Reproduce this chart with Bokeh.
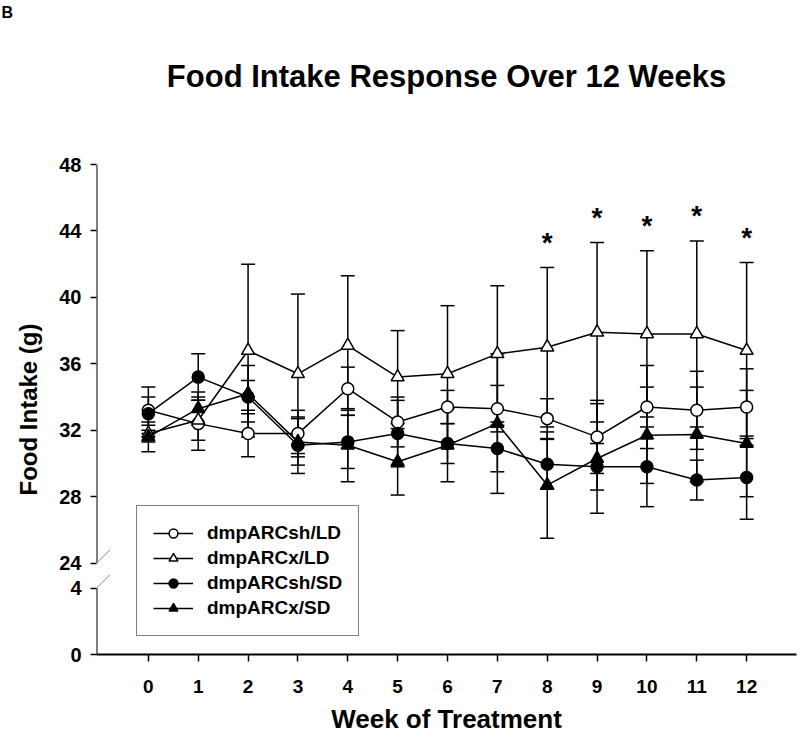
import numpy as np
from bokeh.plotting import figure
from bokeh.models import (ColumnDataSource, Whisker, TeeHead, FixedTicker, Legend,
                          LegendItem, Arrow, Range1d, Title)
from bokeh.embed import file_html
from bokeh.resources import INLINE

# ---------------- data ----------------
weeks = list(range(13))
week_labels = [str(w) for w in weeks]

sh_ld_mean = [33.2, 32.4, 31.8, 31.8, 34.5, 32.5, 33.4, 33.3, 32.7, 31.6, 33.4, 33.2, 33.4]
sh_ld_sem = [1.4, 1.6, 1.4, 1.4, 1.3, 1.5, 1.0, 1.4, 1.2, 2.2, 2.5, 2.35, 2.3]

x_ld_mean = [31.8, 32.6, 36.8, 35.4, 37.1, 35.2, 35.4, 36.6, 37.0, 37.9, 37.8, 37.8, 36.8]
x_ld_sem = [0.5, 1.2, 5.2, 4.8, 4.2, 2.8, 4.1, 4.1, 4.8, 5.4, 5.0, 5.6, 5.3]

sh_sd_mean = [33.0, 35.2, 34.0, 31.1, 31.3, 31.8, 31.2, 30.9, 29.95, 29.8, 29.8, 29.0, 29.15]
sh_sd_sem = [1.0, 1.4, 1.0, 1.7, 1.6, 2.0, 1.2, 1.4, 1.5, 1.4, 2.4, 1.2, 2.5]

x_sd_mean = [31.6, 33.3, 34.2, 31.3, 31.1, 30.1, 31.1, 32.4, 28.7, 30.3, 31.7, 31.75, 31.2]
x_sd_sem = [0.9, 1.0, 1.7, 1.4, 2.2, 2.0, 2.2, 4.2, 3.2, 3.3, 2.9, 2.85, 3.2]

series_names = ["dmpARCsh/LD", "dmpARCx/LD", "dmpARCsh/SD", "dmpARCx/SD"]
star_weeks = [8, 9, 10, 11, 12]

y_ticks_lower = [0, 4]
y_ticks_upper = [24, 28, 32, 36, 40, 44, 48]

# ---------------- broken axis mapping ----------------
BREAK_LO, BREAK_HI, GAP = 4, 24, 1.5
SHIFT = BREAK_HI - BREAK_LO - GAP


def to_plot(v):
    v = np.asarray(v, dtype=float)
    return np.where(v >= BREAK_HI, v - SHIFT, v)


FONT = "Liberation Sans"
X0, X1 = -1.04, 13.0
Y_TOP = to_plot(48).item()

p = figure(width=798, height=737, x_range=Range1d(X0, X1), y_range=Range1d(0, Y_TOP),
           output_backend="svg", toolbar_location=None,
           min_border_left=96, min_border_right=2, min_border_top=163, min_border_bottom=83)
p.grid.visible = False
p.outline_line_color = None
p.background_fill_color = "white"
p.title = None

# stacked above panels (first = closest to the frame): spacer, main title, panel letter
p.add_layout(Title(text=" ", text_font_size="1px", standoff=33), "above")
p.add_layout(Title(text="Food Intake Response Over 12 Weeks", align="center",
                   text_font=FONT, text_font_size="31px",
                   text_font_style="bold", text_color="black", standoff=69), "above")
p.add_layout(Title(text="B", align="left", offset=-95,
                   text_font=FONT, text_font_size="16px",
                   text_font_style="bold", text_color="black", standoff=3), "above")

# x axis
xa = p.xaxis[0]
xa.ticker = FixedTicker(ticks=weeks)
xa.major_label_overrides = {w: l for w, l in zip(weeks, week_labels)}
xa.axis_line_width = 2
xa.axis_line_color = "black"
xa.major_tick_out = 7
xa.major_tick_in = 0
xa.major_tick_line_width = 1.5
xa.major_tick_line_color = "black"
xa.minor_tick_out = 0
xa.minor_tick_in = 0
xa.major_label_text_font = FONT
xa.major_label_text_font_size = "19px"
xa.major_label_text_font_style = "bold"
xa.major_label_text_color = "black"
xa.major_label_standoff = 18
xa.axis_label = "Week of Treatment"
xa.axis_label_text_font = FONT
xa.axis_label_text_font_size = "26px"
xa.axis_label_text_font_style = "bold"
xa.axis_label_text_color = "black"
xa.axis_label_standoff = 8

# y axis
ya = p.yaxis[0]
tick_vals = list(y_ticks_lower) + list(y_ticks_upper)
tick_pos = [float(t) for t in to_plot(tick_vals)]
ya.ticker = FixedTicker(ticks=tick_pos)
ya.major_label_overrides = {pos: str(v) for pos, v in zip(tick_pos, tick_vals)}
ya.axis_line_color = None
ya.major_tick_out = 6
ya.major_tick_in = 0
ya.major_tick_line_width = 1.5
ya.major_tick_line_color = "black"
ya.minor_tick_out = 0
ya.minor_tick_in = 0
ya.major_label_text_font = FONT
ya.major_label_text_font_size = "20px"
ya.major_label_text_font_style = "bold"
ya.major_label_text_color = "black"
ya.major_label_standoff = 9
ya.axis_label = "Food Intake (g)"
ya.axis_label_text_font = FONT
ya.axis_label_text_font_size = "24px"
ya.axis_label_text_font_style = "bold"
ya.axis_label_text_color = "black"
ya.axis_label_standoff = 14

# broken y axis line + break marks
lo_top = to_plot(BREAK_LO).item()
hi_bot = to_plot(BREAK_HI).item()
for ys, ye in [(0, lo_top), (hi_bot, Y_TOP)]:
    p.add_layout(Arrow(end=None, x_start=X0, y_start=ys, x_end=X0, y_end=ye,
                       line_color="black", line_width=2))
for yc in [lo_top, hi_bot]:
    p.add_layout(Arrow(end=None, x_start=X0 - 0.27, y_start=yc - 0.8, x_end=X0 + 0.27,
                       y_end=yc + 0.8, line_color="#888888", line_width=1))

# series
specs = [
    (sh_ld_mean, sh_ld_sem, "circle", "white", 12),
    (x_ld_mean, x_ld_sem, "triangle", "white", 13),
    (sh_sd_mean, sh_sd_sem, "circle", "black", 12),
    (x_sd_mean, x_sd_sem, "triangle", "black", 13),
]
items = []
for name, (m, s, marker, fill, size) in zip(series_names, specs):
    m = np.asarray(m, float)
    s = np.asarray(s, float)
    src = ColumnDataSource(dict(x=weeks, y=to_plot(m), upper=to_plot(m + s), lower=to_plot(m - s)))
    w = Whisker(source=src, base="x", upper="upper", lower="lower",
                line_color="black", line_width=1.5,
                upper_head=TeeHead(size=14, line_color="black", line_width=1.5),
                lower_head=TeeHead(size=14, line_color="black", line_width=1.5))
    p.add_layout(w)
    ln = p.line("x", "y", source=src, line_color="black", line_width=1.5)
    sc = p.scatter("x", "y", source=src, marker=marker, size=size, fill_color=fill,
                   line_color="black", line_width=1.5)
    items.append(LegendItem(label=name, renderers=[ln, sc]))

# significance stars above dmpARCx/LD error bars
xld_upper = np.asarray(x_ld_mean) + np.asarray(x_ld_sem)
star_src = ColumnDataSource(dict(x=star_weeks,
                                 y=to_plot(xld_upper[star_weeks]) + 1.5,
                                 t=["*"] * len(star_weeks)))
p.text("x", "y", text="t", source=star_src, text_align="center", text_baseline="alphabetic",
       text_font_size="28px", text_font_style="bold", text_color="black")

legend = Legend(items=items, location=(40, 18), margin=0, padding=16, spacing=3,
                glyph_width=40, glyph_height=22, label_standoff=14,
                label_text_font=FONT, label_text_font_size="19px", label_text_font_style="bold",
                label_text_color="black",
                border_line_color="black", border_line_width=1.5, background_fill_alpha=1)
p.add_layout(legend, "center")

open("out.html", "w").write(file_html(p, INLINE))
